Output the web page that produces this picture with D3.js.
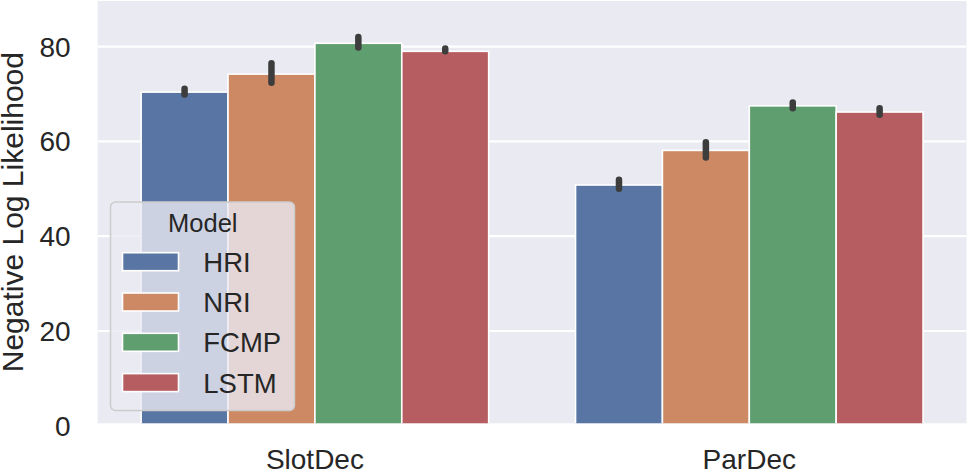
<!DOCTYPE html>
<html>
<head>
<meta charset="utf-8">
<script src="https://cdn.jsdelivr.net/npm/d3@7"></script>
<style>
  html, body { margin: 0; padding: 0; background: #fff; }
  svg { display: block; font-family: "Liberation Sans", Arial, sans-serif; }
</style>
</head>
<body>
<svg id="chart" width="968" height="476"></svg>
<script>
const categories = ["SlotDec", "ParDec"];
const models = ["HRI", "NRI", "FCMP", "LSTM"];
const colors = ["#5975a4", "#cc8963", "#5f9e6e", "#b55d60"];
// mean values per model, in category order
const hri  = [70.4, 50.8];
const nri  = [74.2, 58.1];
const fcmp = [80.7, 67.5];
const lstm = [79.0, 66.2];
// confidence interval [low, high] per model, in category order
const hriCI  = [[69.9, 71.1], [50.0, 51.9]];
const nriCI  = [[72.4, 76.5], [56.6, 59.8]];
const fcmpCI = [[79.8, 82.0], [67.0, 68.2]];
const lstmCI = [[79.0, 79.6], [65.6, 67.0]];
const yTicks = [0, 20, 40, 60, 80];
const yLabel = "Negative Log Likelihood";
const legendTitle = "Model";

const seriesVals = [hri, nri, fcmp, lstm];
const seriesCI = [hriCI, nriCI, fcmpCI, lstmCI];

const svg = d3.select("#chart");
const plot = { left: 97.7, right: 966.5, top: 1, bottom: 423.3 };

const x = d3.scaleBand().domain(categories).range([plot.left, plot.right]).paddingInner(0).paddingOuter(0);
const groupW = x.bandwidth() * 0.8;
const xs = d3.scaleBand().domain(models).range([0, groupW]);
const y = d3.scaleLinear().domain([0.53, 89.62]).range([plot.bottom, plot.top]);

// background
svg.append("rect").attr("x", plot.left).attr("y", plot.top)
  .attr("width", plot.right - plot.left).attr("height", plot.bottom - plot.top)
  .attr("fill", "#eaeaf2");

svg.append("clipPath").attr("id", "clip").append("rect")
  .attr("x", plot.left).attr("y", plot.top)
  .attr("width", plot.right - plot.left).attr("height", plot.bottom - plot.top);

const g = svg.append("g").attr("clip-path", "url(#clip)");

// horizontal gridlines
g.selectAll("line.hgrid").data(yTicks).join("line")
  .attr("x1", plot.left).attr("x2", plot.right)
  .attr("y1", d => y(d)).attr("y2", d => y(d))
  .attr("stroke", "#fff").attr("stroke-width", 2.2);

// bars
models.forEach((m, i) => {
  categories.forEach((c, j) => {
    const x0 = x(c) + (x.bandwidth() - groupW) / 2 + xs(m);
    g.append("rect")
      .attr("x", x0).attr("width", xs.bandwidth())
      .attr("y", y(seriesVals[i][j])).attr("height", y(0) - y(seriesVals[i][j]) + 4)
      .attr("fill", colors[i]).attr("stroke", "#fff").attr("stroke-width", 1.6);
  });
});
// error bars
models.forEach((m, i) => {
  categories.forEach((c, j) => {
    const cx = x(c) + (x.bandwidth() - groupW) / 2 + xs(m) + xs.bandwidth() / 2;
    g.append("line")
      .attr("x1", cx).attr("x2", cx)
      .attr("y1", y(seriesCI[i][j][0])).attr("y2", y(seriesCI[i][j][1]))
      .attr("stroke", "#3d3d3d").attr("stroke-width", 6.5).attr("stroke-linecap", "round");
  });
});

// y tick labels
const axisY = d3.axisLeft(y).tickValues(yTicks).tickSize(0).tickPadding(0);
const ay = svg.append("g").attr("transform", `translate(${plot.left - 27},0)`).call(axisY);
ay.select(".domain").remove();
ay.selectAll("text").attr("font-size", 28).attr("fill", "#262626")
  .attr("font-family", "Liberation Sans, Arial, sans-serif").attr("dy", "0.34em");

// x tick labels
const axisX = d3.axisBottom(x).tickSize(0).tickPadding(0);
const ax = svg.append("g").attr("transform", `translate(0,${plot.bottom + 26})`).call(axisX);
ax.select(".domain").remove();
ax.selectAll("text").attr("font-size", 28).attr("fill", "#262626")
  .attr("font-family", "Liberation Sans, Arial, sans-serif").attr("dy", "0.71em");

// y label
svg.append("text")
  .attr("transform", `translate(23,${(plot.top + plot.bottom) / 2}) rotate(-90)`)
  .attr("text-anchor", "middle").attr("font-size", 30).attr("fill", "#262626")
  .text(yLabel);

// legend
const lg = svg.append("g");
lg.append("rect").attr("x", 110.5).attr("y", 202).attr("width", 184).attr("height", 208.5)
  .attr("rx", 5).attr("fill", "rgba(234,234,242,0.8)").attr("stroke", "#cccccc").attr("stroke-width", 1.5);
lg.append("text").attr("x", 202.8).attr("y", 231.7).attr("text-anchor", "middle")
  .attr("font-size", 25.5).attr("fill", "#262626").text(legendTitle);
models.forEach((m, i) => {
  const base = 271.7 + i * 40.3;
  lg.append("rect").attr("x", 122.5).attr("y", base - 19).attr("width", 56).attr("height", 18)
    .attr("fill", colors[i]).attr("stroke", "#fff").attr("stroke-width", 1.6);
  lg.append("text").attr("x", 203.3).attr("y", base).attr("font-size", 27.5).attr("fill", "#262626").text(m);
});
</script>
</body>
</html>
